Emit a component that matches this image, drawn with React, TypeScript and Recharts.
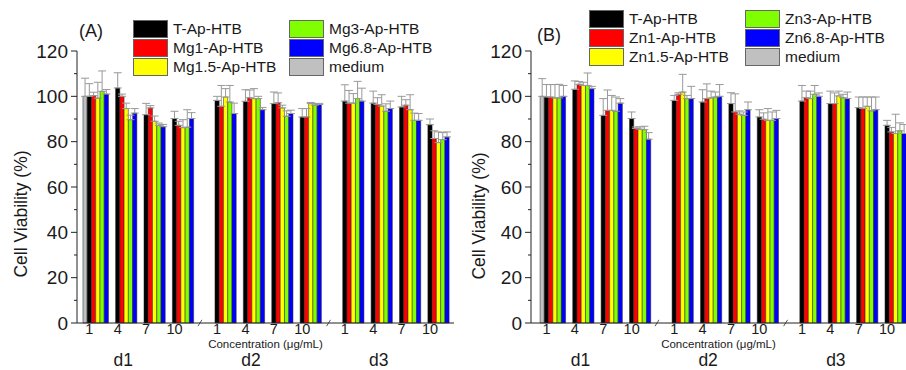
import React from "react";
import { BarChart, Bar, XAxis, YAxis, ErrorBar, Cell, ReferenceLine } from "recharts";

const days = ["d1", "d2", "d3"];
const concentrations = ["1", "4", "7", "10"];
const yTicks = [0, 10, 20, 30, 40, 50, 60, 70, 80, 90, 100, 110, 120];

const seriesColors = ["#000000", "#ff0000", "#ffff00", "#80ff00", "#0000ff"];
const mediumColor = "#c0c0c0";

// (A) Mg series, order: d1 1/4/7/10, d2 1/4/7/10, d3 1/4/7/10
const namesA = ["T-Ap-HTB", "Mg1-Ap-HTB", "Mg1.5-Ap-HTB", "Mg3-Ap-HTB", "Mg6.8-Ap-HTB"];
const tA = [100, 103.7, 91.9, 90.2, 98.2, 97.8, 96.8, 90.9, 97.9, 97.0, 95.3, 87.5];
const mg1 = [100.3, 100, 94.9, 87.2, 95.6, 99.4, 97.2, 90.9, 97.0, 96.4, 96.1, 81.4];
const mg15 = [99.2, 94.6, 89.0, 86.2, 99.7, 99.0, 94.9, 96.8, 97.0, 95.7, 94.1, 79.6];
const mg3 = [102.2, 89.7, 87.2, 86.4, 97.5, 99.0, 91.2, 96.1, 99.0, 93.4, 89.4, 80.9];
const mg68 = [101.0, 92.6, 86.6, 90.2, 92.4, 94.1, 92.4, 96.4, 97.9, 94.6, 89.4, 82.1];
const tAErr = [5.6, 6.7, 5, 3.2, 1.8, 5.1, 5.1, 3.7, 7.2, 5.3, 4.7, 2.5];
const mg1Err = [1.5, 1, 1, 1.8, 9.2, 3.4, 4.3, 3.7, 5.6, 3, 2.4, 3.4];
const mg15Err = [7, 2.4, 2.3, 3.5, 3.7, 4.4, 1.2, 0.5, 4.2, 5, 6.6, 4.7];
const mg3Err = [9, 2, 1, 7.7, 7.3, 1, 2.4, 0.7, 7.6, 3.3, 3.2, 3.1];
const mg68Err = [2, 2, 1, 2.6, 4.6, 1, 1.5, 0.5, 5.7, 3.3, 3, 2.2];
const mediumA = 100;
const mediumAErr = 8;

// (B) Zn series
const namesB = ["T-Ap-HTB", "Zn1-Ap-HTB", "Zn1.5-Ap-HTB", "Zn3-Ap-HTB", "Zn6.8-Ap-HTB"];
const tB = [99.7, 103.1, 91.6, 90.2, 98.2, 97.5, 96.8, 90.9, 97.9, 96.8, 95.0, 87.2];
const zn1 = [99.7, 105.3, 93.8, 85.8, 100.9, 99.0, 93.1, 89.9, 99.4, 96.8, 94.6, 84.3];
const zn15 = [99.3, 104.8, 93.8, 85.5, 101.9, 99.3, 92.1, 89.4, 99.0, 100.2, 95.6, 83.6];
const zn3 = [99.3, 104.8, 93.4, 85.3, 99.0, 99.7, 91.6, 89.4, 100.9, 99.4, 93.6, 84.8];
const zn68 = [100, 103.4, 97.0, 81.1, 99.0, 100, 94.1, 90.2, 100, 99.0, 94.1, 83.6];
const tBErr = [5.5, 3.7, 7.4, 2.9, 2.2, 5.4, 4.8, 3.2, 6.9, 5.5, 4.7, 2.2];
const zn1Err = [5.5, 1.2, 9, 0.7, 0.7, 6.5, 8, 2.8, 2.9, 4.7, 5.1, 2];
const zn15Err = [5.9, 1.4, 6.6, 1, 7.8, 3, 1.5, 5.2, 3.3, 2.1, 4.1, 8.5];
const zn3Err = [6, 5.5, 6.3, 1.5, 1.4, 2.2, 1.5, 3.7, 3.9, 1.5, 6.1, 3.5];
const zn68Err = [4.8, 1, 2, 2.9, 5.4, 5.2, 3.4, 3.6, 1.5, 2.9, 5.6, 4];
const mediumB = 100;
const mediumBErr = 7.8;

const SLOT = 0.15; // one bar, in cluster units
const DAY_STEP = 4.5; // 4 clusters + break

const FONT = "'Liberation Sans', Arial, sans-serif";
const INK = "#1a1a1a";

function buildRows(values: number[][], errors: number[][], medium: number, mediumErr: number) {
  const rows: { x: number; v: number; e: number[]; fill: string }[] = [
    { x: -SLOT / 2, v: medium, e: [0, mediumErr], fill: mediumColor },
  ];
  days.forEach((_, d) =>
    concentrations.forEach((_, c) => {
      const k = d * concentrations.length + c;
      const base = d * DAY_STEP + c;
      values.forEach((s, i) =>
        rows.push({ x: base + (i + 0.5) * SLOT, v: s[k], e: [0, errors[i][k]], fill: seriesColors[i] })
      );
    })
  );
  return rows;
}

const rowsA = buildRows([tA, mg1, mg15, mg3, mg68], [tAErr, mg1Err, mg15Err, mg3Err, mg68Err], mediumA, mediumAErr);
const rowsB = buildRows([tB, zn1, zn15, zn3, zn68], [tBErr, zn1Err, zn15Err, zn3Err, zn68Err], mediumB, mediumBErr);

const concTicks = days.flatMap((_, d) => concentrations.map((_, c) => d * DAY_STEP + c + SLOT / 2));
const concLabels = days.flatMap(() => concentrations);
const dayTicks = days.map((_, d) => d * DAY_STEP + 1.27);
const breaks = [3.97, 8.5];

function YTick(props: any) {
  const { x, y, payload } = props;
  const axisX = x + 9;
  const major = payload.value % 20 === 0;
  return (
    <g>
      <line x1={axisX - (major ? 6 : 3)} x2={axisX} y1={y} y2={y} stroke="#222" strokeWidth={1} />
      {major && (
        <text x={x} y={y} dy={6.8} textAnchor="end" fontSize={19} fill={INK} fontFamily={FONT}>
          {payload.value}
        </text>
      )}
    </g>
  );
}

interface PanelProps {
  left: number;
  width: number;
  domain: [number, number];
  rows: { x: number; v: number; e: number[]; fill: string }[];
  tag: string;
  tagX: number;
  tagY: number;
  names: string[];
  legendX: number;
  legendY: number;
  ylabelX: number;
  ylabelY: number;
}

function Panel(p: PanelProps) {
  const legendItems = [
    ...p.names.map((n, i) => ({ name: n, color: seriesColors[i] })),
    { name: "medium", color: mediumColor },
  ];
  return (
    <div style={{ position: "absolute", left: p.left, top: 0, width: p.width, height: 370 }}>
      <BarChart
        width={p.width}
        height={370}
        data={p.rows}
        margin={{ top: 51, right: 0, bottom: 0, left: 0 }}
        style={{ fontFamily: FONT }}
      >
        <XAxis
          dataKey="x"
          type="number"
          domain={p.domain}
          allowDataOverflow
          ticks={concTicks}
          interval={0}
          tickFormatter={(_v: number, i: number) => concLabels[i]}
          tickLine={false}
          tickSize={1}
          tickMargin={0}
          height={28}
          stroke="#222"
          tick={{ fontSize: 14.5, fill: INK }}
          label={{
            value: "Concentration (μg/mL)",
            position: "insideBottom",
            offset: 3,
            style: { fontSize: 11.5, fill: INK },
          }}
        />
        <XAxis
          xAxisId="day"
          dataKey="x"
          type="number"
          domain={p.domain}
          allowDataOverflow
          ticks={dayTicks}
          interval={0}
          tickFormatter={(_v: number, i: number) => days[i]}
          axisLine={false}
          tickLine={false}
          tickSize={2}
          tickMargin={0.8}
          height={19}
          tick={{ fontSize: 17.5, fill: INK }}
        />
        <YAxis
          type="number"
          domain={[0, 120]}
          ticks={yTicks}
          interval={0}
          width={77}
          tickSize={6}
          tickMargin={3}
          tickLine={false}
          stroke="#222"
          tick={<YTick />}
        />
        {breaks.map((b) => (
          <ReferenceLine
            key={b}
            segment={[
              { x: b - 0.07, y: -1.4 },
              { x: b + 0.07, y: 1.4 },
            ]}
            stroke="#555"
            ifOverflow="visible"
          />
        ))}
        <Bar dataKey="v" barSize={4.2} stroke="#222" strokeWidth={0.5} isAnimationActive={false}>
          {p.rows.map((r, i) => (
            <Cell key={i} fill={r.fill} />
          ))}
          <ErrorBar dataKey="e" width={4} stroke="#999999" strokeWidth={1} direction="y" />
        </Bar>
      </BarChart>

      <div
        style={{
          position: "absolute",
          left: p.ylabelX,
          top: p.ylabelY,
          transform: "translate(-50%, -50%) rotate(-90deg)",
          whiteSpace: "nowrap",
          fontSize: 17.5,
          lineHeight: 1,
          color: INK,
          fontFamily: FONT,
        }}
      >
        Cell Viability (%)
      </div>

      <div
        style={{
          position: "absolute",
          left: p.tagX,
          top: p.tagY,
          fontSize: 18,
          lineHeight: 1,
          color: INK,
          fontFamily: FONT,
        }}
      >
        {p.tag}
      </div>

      <div
        style={{
          position: "absolute",
          left: p.legendX,
          top: p.legendY,
          display: "grid",
          gridTemplateColumns: "156px 150px",
          gridAutoFlow: "column",
          gridTemplateRows: "19px 19px 19px",
          fontFamily: FONT,
          fontSize: 15.5,
          color: INK,
        }}
      >
        {legendItems.map((it) => (
          <div key={it.name} style={{ display: "flex", alignItems: "center", height: 19 }}>
            <span
              style={{
                display: "inline-block",
                width: 33,
                height: 16,
                background: it.color,
                border: "1px solid #666",
                marginRight: 5,
              }}
            />
            <span style={{ whiteSpace: "nowrap" }}>{it.name}</span>
          </div>
        ))}
      </div>
    </div>
  );
}

export default function App() {
  return (
    <div
      style={{
        position: "absolute",
        left: 0,
        top: 0,
        width: 906,
        height: 370,
        background: "#ffffff",
        overflow: "hidden",
      }}
    >
      <Panel
        left={0}
        width={454}
        domain={[-0.36, 12.92]}
        rows={rowsA}
        tag="(A)"
        tagX={79}
        tagY={22}
        names={namesA}
        legendX={133}
        legendY={19}
        ylabelX={22}
        ylabelY={214}
      />
      <Panel
        left={454}
        width={452}
        domain={[-0.47, 12.74]}
        rows={rowsB}
        tag="(B)"
        tagX={83}
        tagY={26}
        names={namesB}
        legendX={135}
        legendY={9}
        ylabelX={26}
        ylabelY={216}
      />
    </div>
  );
}
